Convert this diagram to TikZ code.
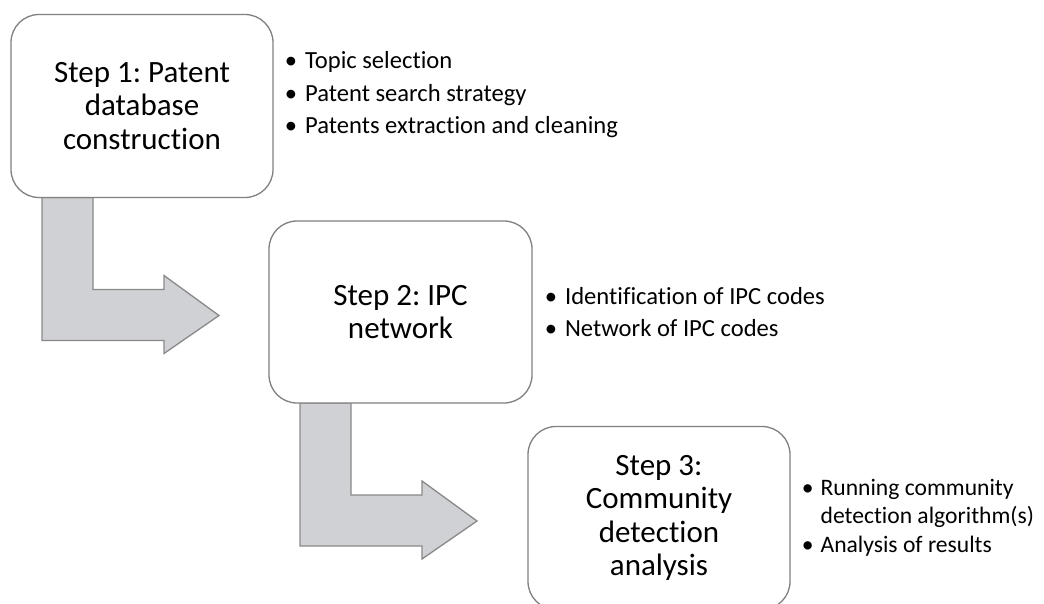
\documentclass[tikz,border=0pt]{standalone}
\usepackage{fontspec}
\setmainfont[Ligatures=NoCommon]{Carlito}
\usetikzlibrary{calc}
\definecolor{arrowfill}{RGB}{208,209,213}
\definecolor{arrowline}{RGB}{137,137,137}
\definecolor{boxline}{RGB}{128,128,128}
\tikzset{
  stepbox/.style={draw=boxline, line width=1.3pt, fill=white, rounded corners=28pt,
    minimum width=262pt, minimum height=183pt, align=center, inner sep=0pt,
    font=\fontsize{31}{33.5}\selectfont},
  notes/.style={anchor=west, inner sep=0pt, align=left,
    font=\fontsize{24.6}{32.5}\selectfont},
  bentarrow/.style={draw=arrowline, fill=arrowfill, line width=1.3pt, line join=miter},
  pics/bent/.style={code={
    \draw[bentarrow] (0,0) -- (51,0) -- (51,92) -- (122,92) -- (122,78) -- (177,118)
      -- (122,156) -- (122,143) -- (0,143) -- cycle;
  }}
}
\newcommand{\bul}{\textbullet}
\frenchspacing
\begin{document}
\begin{tikzpicture}[x=1pt, y=-1pt]
  \useasboundingbox (0,0) rectangle (1044,604);
  \clip (0,0) rectangle (1044,604);

  % centres of the three step boxes
  \path (142,106) coordinate (c1) (400.5,312) coordinate (c2) (659,518) coordinate (c3);

  % bent arrows from one step to the next, drawn beneath the boxes
  \path (c1) ++(-100,91.5) pic {bent};
  \path (c2) ++(-100.5,91) pic {bent};

  \node[stepbox] (s1) at (c1) {Step 1: Patent\\database\\construction};
  \node[stepbox, minimum width=263pt, minimum height=182pt] (s2) at (c2) {Step 2: IPC\\network};
  \node[stepbox] (s3) at (c3) {Step 3:\\Community\\detection\\analysis};

  % bullet lists beside each step
  \node[notes] (n1) at ($(s1.east)+(11,-11)$) {%
    \begin{tabular}{@{}l@{\hspace{8pt}}l@{}}
      \bul & Topic selection\\
      \bul & Patent search strategy\\
      \bul & Patents extraction and cleaning
    \end{tabular}};
  \node[notes] (n2) at ($(s2.east)+(12,2)$) {%
    \begin{tabular}{@{}l@{\hspace{8pt}}l@{}}
      \bul & Identification of IPC codes\\
      \bul & Network of IPC codes
    \end{tabular}};
  \node[notes, font=\fontsize{23.6}{28.5}\selectfont] (n3) at ($(s3.east)+(11,0)$) {%
    \begin{tabular}{@{}l@{\hspace{7pt}}l@{}}
      \bul & Running community\\
           & detection algorithm(s)\\
      \bul & Analysis of results
    \end{tabular}};
\end{tikzpicture}
\end{document}
